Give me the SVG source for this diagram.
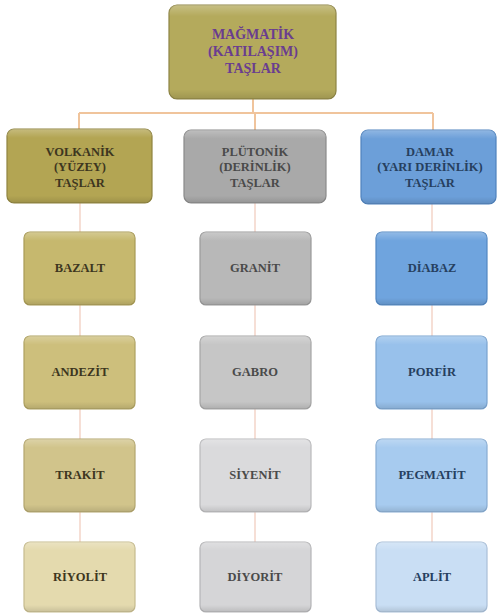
<svg xmlns="http://www.w3.org/2000/svg" width="498" height="613" viewBox="0 0 498 613" font-family="Liberation Serif, Times New Roman, serif">
<defs>
<style>
.box{stroke-width:1.2}
.t{font-weight:bold;text-anchor:middle;dominant-baseline:central}
.t3{font-size:12.5px}
.t2{font-size:12.5px}
.t1{font-size:14px;fill:#6a3d8f}
.conn{stroke:#f0c49c;stroke-width:2;fill:none}
.conn2{stroke:#f4d8cc;stroke-width:1.6;fill:none}
.ty{fill:#3d3620}
.tg{fill:#4a4a4a}
.tb{fill:#26405f}
</style>
<linearGradient id="sheen" x1="0" y1="0" x2="0" y2="1">
<stop offset="0" stop-color="#ffffff" stop-opacity="0.25"/>
<stop offset="0.12" stop-color="#ffffff" stop-opacity="0"/>
<stop offset="0.9" stop-color="#000000" stop-opacity="0"/>
<stop offset="1" stop-color="#000000" stop-opacity="0.12"/>
</linearGradient>
</defs>
<rect width="498" height="613" fill="#ffffff"/>
<g id="connectors">
<path class="conn" d="M253 99 V113 M79 113 H433 M79 113 V129 M255 113 V130 M433 113 V130"/>
<path class="conn2" d="M80 203 V232 M80 305 V336 M80 409 V439 M80 512 V542"/>
<path class="conn2" d="M255 203 V232 M255 305 V336 M255 409 V439 M255 512 V542"/>
<path class="conn2" d="M432 204 V232 M432 305 V336 M432 409 V439 M432 512 V542"/>
</g>
<g id="n-magmatik">
<rect class="box" x="169" y="5" width="167" height="94" rx="8" fill="#b4aa5c" stroke="#8d8444"/>
<rect x="169" y="5" width="167" height="94" rx="8" fill="url(#sheen)"/>
<text class="t t1" x="253" y="34">MAĞMATİK</text>
<text class="t t1" x="253" y="51">(KATILAŞIM)</text>
<text class="t t1" x="253" y="68">TAŞLAR</text>
</g>
<g id="n-volkanik">
<rect class="box" x="7" y="129" width="145" height="74" rx="7" fill="#b3a553" stroke="#8f8440"/>
<rect x="7" y="129" width="145" height="74" rx="7" fill="url(#sheen)"/>
<text class="t t2 ty" x="80" y="152">VOLKANİK</text>
<text class="t t2 ty" x="80" y="167">(YÜZEY)</text>
<text class="t t2 ty" x="80" y="183">TAŞLAR</text>
</g>
<g id="n-plutonik">
<rect class="box" x="184" y="130" width="142" height="73" rx="7" fill="#a9a9a9" stroke="#8a8a8a"/>
<rect x="184" y="130" width="142" height="73" rx="7" fill="url(#sheen)"/>
<text class="t t2 tg" x="255" y="152">PLÜTONİK</text>
<text class="t t2 tg" x="255" y="167">(DERİNLİK)</text>
<text class="t t2 tg" x="255" y="183">TAŞLAR</text>
</g>
<g id="n-damar">
<rect class="box" x="361" y="130" width="135" height="74" rx="7" fill="#6c9fd9" stroke="#4f82bd"/>
<rect x="361" y="130" width="135" height="74" rx="7" fill="url(#sheen)"/>
<text class="t t2 tb" x="430" y="152">DAMAR</text>
<text class="t t2 tb" x="430" y="167">(YARI DERİNLİK)</text>
<text class="t t2 tb" x="430" y="183">TAŞLAR</text>
</g>
<g id="n-bazalt">
<rect class="box" x="24" y="232" width="111" height="73" rx="6" fill="#c6b86e" stroke="#a89a55"/>
<rect x="24" y="232" width="111" height="73" rx="6" fill="url(#sheen)"/>
<text class="t t3 ty" x="80" y="268">BAZALT</text>
</g>
<g id="n-andezit">
<rect class="box" x="24" y="336" width="111" height="73" rx="6" fill="#cdbf7c" stroke="#aea160"/>
<rect x="24" y="336" width="111" height="73" rx="6" fill="url(#sheen)"/>
<text class="t t3 ty" x="80" y="372">ANDEZİT</text>
</g>
<g id="n-trakit">
<rect class="box" x="24" y="439" width="111" height="73" rx="6" fill="#d1c48b" stroke="#b3a66e"/>
<rect x="24" y="439" width="111" height="73" rx="6" fill="url(#sheen)"/>
<text class="t t3 ty" x="80" y="475">TRAKİT</text>
</g>
<g id="n-riyolit">
<rect class="box" x="24" y="542" width="111" height="70" rx="6" fill="#e4daae" stroke="#c6bb8e"/>
<rect x="24" y="542" width="111" height="70" rx="6" fill="url(#sheen)"/>
<text class="t t3 ty" x="80" y="577">RİYOLİT</text>
</g>
<g id="n-granit">
<rect class="box" x="200" y="232" width="111" height="73" rx="6" fill="#b8b8b8" stroke="#999999"/>
<rect x="200" y="232" width="111" height="73" rx="6" fill="url(#sheen)"/>
<text class="t t3 tg" x="255" y="268">GRANİT</text>
</g>
<g id="n-gabro">
<rect class="box" x="200" y="336" width="111" height="73" rx="6" fill="#c6c6c6" stroke="#a6a6a6"/>
<rect x="200" y="336" width="111" height="73" rx="6" fill="url(#sheen)"/>
<text class="t t3 tg" x="255" y="372">GABRO</text>
</g>
<g id="n-siyenit">
<rect class="box" x="200" y="439" width="111" height="73" rx="6" fill="#dadadc" stroke="#b9b9bb"/>
<rect x="200" y="439" width="111" height="73" rx="6" fill="url(#sheen)"/>
<text class="t t3 tg" x="255" y="475">SİYENİT</text>
</g>
<g id="n-diyorit">
<rect class="box" x="200" y="542" width="111" height="70" rx="6" fill="#d5d5d7" stroke="#b5b5b7"/>
<rect x="200" y="542" width="111" height="70" rx="6" fill="url(#sheen)"/>
<text class="t t3 tg" x="255" y="577">DİYORİT</text>
</g>
<g id="n-diabaz">
<rect class="box" x="376" y="232" width="111" height="73" rx="6" fill="#6fa4de" stroke="#5287c2"/>
<rect x="376" y="232" width="111" height="73" rx="6" fill="url(#sheen)"/>
<text class="t t3 tb" x="432" y="268">DİABAZ</text>
</g>
<g id="n-porfir">
<rect class="box" x="376" y="336" width="111" height="73" rx="6" fill="#98c1eb" stroke="#79a3cf"/>
<rect x="376" y="336" width="111" height="73" rx="6" fill="url(#sheen)"/>
<text class="t t3 tb" x="432" y="372">PORFİR</text>
</g>
<g id="n-pegmatit">
<rect class="box" x="376" y="439" width="111" height="73" rx="6" fill="#a7cbef" stroke="#88acd2"/>
<rect x="376" y="439" width="111" height="73" rx="6" fill="url(#sheen)"/>
<text class="t t3 tb" x="432" y="475">PEGMATİT</text>
</g>
<g id="n-aplit">
<rect class="box" x="376" y="542" width="111" height="70" rx="6" fill="#c9def4" stroke="#a9bfd8"/>
<rect x="376" y="542" width="111" height="70" rx="6" fill="url(#sheen)"/>
<text class="t t3 tb" x="432" y="577">APLİT</text>
</g>
</svg>
